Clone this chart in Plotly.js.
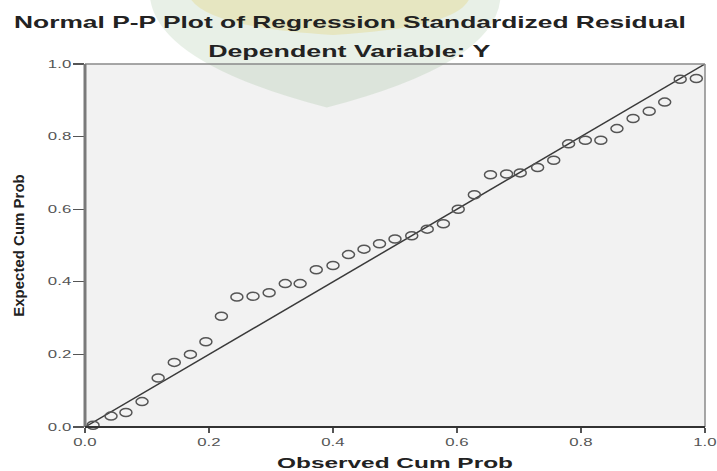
<!DOCTYPE html>
<html>
<head>
<meta charset="utf-8">
<script src="https://cdn.plot.ly/plotly-3.0.1.min.js"></script>
<style>
  html, body { margin: 0; padding: 0; background: #fff; }
  #chart { width: 717px; height: 471px; }
</style>
</head>
<body>
<div id="chart"></div>
<script>
// Observed cumulative probability (x) and expected cumulative probability (y)
const observedCumProb = [0.013, 0.042, 0.066, 0.092, 0.118, 0.144, 0.170, 0.195, 0.220, 0.245,
  0.271, 0.297, 0.323, 0.347, 0.373, 0.400, 0.425, 0.450, 0.475, 0.500,
  0.527, 0.552, 0.578, 0.602, 0.628, 0.654, 0.680, 0.702, 0.730, 0.756,
  0.780, 0.807, 0.832, 0.858, 0.884, 0.910, 0.935, 0.960, 0.986];
const expectedCumProb = [0.005, 0.030, 0.040, 0.070, 0.135, 0.178, 0.200, 0.235, 0.305, 0.358,
  0.360, 0.370, 0.395, 0.395, 0.433, 0.445, 0.475, 0.490, 0.505, 0.518,
  0.527, 0.545, 0.560, 0.600, 0.640, 0.695, 0.697, 0.700, 0.715, 0.735,
  0.780, 0.790, 0.790, 0.822, 0.850, 0.870, 0.895, 0.958, 0.960];
const refLineX = [0, 1];
const refLineY = [0, 1];
const tickVals = [0, 0.2, 0.4, 0.6, 0.8, 1.0];
const tickLabels = ["0.0", "0.2", "0.4", "0.6", "0.8", "1.0"];

const FONT = "Liberation Sans, Arial, sans-serif";

const traces = [
  {
    x: refLineX, y: refLineY, mode: "lines", type: "scatter",
    line: { color: "#3a3a3a", width: 1.5 }, hoverinfo: "skip", showlegend: false
  },
  {
    x: observedCumProb, y: expectedCumProb, mode: "markers", type: "scatter",
    marker: { symbol: "circle-open", size: 10, color: "#555", line: { width: 1.5, color: "#555" } },
    showlegend: false, cliponaxis: false
  }
];

const layout = {
  width: 717, height: 471,
  margin: { l: 85, r: 12, t: 64, b: 44 },
  paper_bgcolor: "#ffffff",
  plot_bgcolor: "#f2f2f2",
  font: { family: FONT, color: "#555" },
  title: {
    text: "<b>Normal P-P Plot of Regression Standardized Residual</b>",
    x: 0.488, xanchor: "center", y: 0.953, yanchor: "middle",
    font: { family: FONT, size: 16, color: "#222" }
  },
  annotations: [{
    text: "<b>Dependent Variable: Y</b>", xref: "paper", yref: "paper",
    x: 0.427, y: 1.0, yshift: 13, xanchor: "center", yanchor: "middle", showarrow: false,
    font: { family: FONT, size: 16, color: "#222" }
  }],
  xaxis: {
    range: [0, 1], tickvals: tickVals, ticktext: tickLabels,
    ticks: "outside", ticklen: 5, tickwidth: 2, tickcolor: "#555",
    showgrid: false, zeroline: false, showline: false,
    tickfont: { size: 10.5, color: "#555", family: FONT },
    title: { text: "<b>Observed Cum Prob</b>", standoff: 14,
      font: { size: 15, color: "#222", family: FONT } }
  },
  yaxis: {
    range: [0, 1], tickvals: tickVals, ticktext: tickLabels,
    ticks: "outside", ticklen: 11, tickwidth: 1.2, tickcolor: "#555",
    ticklabelstandoff: 4,
    showgrid: false, zeroline: false, showline: false,
    tickfont: { size: 10.5, color: "#555", family: FONT },
    title: { text: "<b>Expected Cum Prob</b>", standoff: 24,
      font: { size: 15, color: "#222", family: FONT } }
  },
  shapes: [
    // faint shield-shaped watermark behind the title
    { type: "path", xref: "paper", yref: "paper", layer: "below",
      path: "M 0.105 1.18 L 0.67 1.18 Q 0.66 1.0 0.39 0.88 Q 0.12 1.0 0.105 1.18 Z",
      fillcolor: "rgba(95,150,85,0.14)", line: { width: 0 } },
    { type: "path", xref: "paper", yref: "paper", layer: "below",
      path: "M 0.17 1.18 L 0.62 1.18 Q 0.6 1.1 0.40 1.08 Q 0.2 1.1 0.17 1.18 Z",
      fillcolor: "rgba(225,195,60,0.22)", line: { width: 0 } },
    { type: "line", xref: "paper", yref: "paper", x0: 0, x1: 1, y0: 1, y1: 1, line: { color: "#8a8a8a", width: 1.5 } },
    { type: "line", xref: "paper", yref: "paper", x0: 1, x1: 1, y0: 0, y1: 1, line: { color: "#8a8a8a", width: 1.5 } },
    { type: "line", xref: "paper", yref: "paper", x0: 0, x1: 0, y0: 0, y1: 1, line: { color: "#7a7a7a", width: 3 } },
    { type: "line", xref: "paper", yref: "paper", x0: 0, x1: 1, y0: 0, y1: 0, line: { color: "#333", width: 1.8 } }
  ]
};

function stretchText(el, s) {
  const bb = el.getBBox();
  const cx = bb.x + bb.width / 2;
  const t = el.getAttribute("transform") || "";
  el.setAttribute("transform", t + " translate(" + cx + ",0) scale(" + s + ",1) translate(" + (-cx) + ",0)");
}

Plotly.newPlot("chart", traces, layout, { displayModeBar: false, staticPlot: true }).then(function () {
  // stretch markers into horizontal ellipses like the reference
  document.querySelectorAll(".scatterlayer path.point").forEach(function (p) {
    p.setAttribute("d", "M6,0A6,4 0 1,1 0,-4A6,4 0 0,1 6,0Z");
  });
  // the reference image is horizontally stretched: widen text the same way
  const g = document.querySelector("text.gtitle");
  if (g) stretchText(g, 672 / g.getBBox().width);
  const a = document.querySelector("text.annotation-text");
  if (a) stretchText(a, 283 / a.getBBox().width);
  const xt = document.querySelector("text.xtitle");
  if (xt) stretchText(xt, 236 / xt.getBBox().width);
  document.querySelectorAll(".xtick text, .ytick text").forEach(function (t) { stretchText(t, 1.6); });
});
</script>
</body>
</html>
